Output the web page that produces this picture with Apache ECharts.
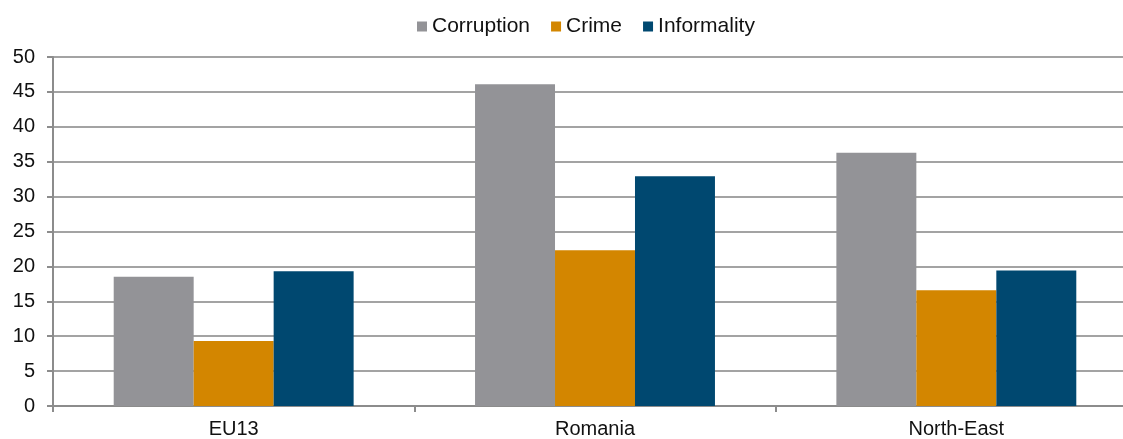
<!DOCTYPE html>
<html>
<head>
<meta charset="utf-8">
<script src="https://cdn.jsdelivr.net/npm/echarts@6/dist/echarts.min.js"></script>
<style>
  html, body { margin: 0; padding: 0; background: #ffffff; }
  #chart { width: 1123px; height: 439px; }
</style>
</head>
<body>
<div id="chart"></div>
<script>
const categories = ['EU13', 'Romania', 'North-East']
const corruption = [18.5, 46.1, 36.3]
const crime = [9.3, 22.3, 16.6]
const informality = [19.3, 32.9, 19.4]
const yTicks = [0, 50, 5]  // min, max, interval

const FONT = 'Liberation Sans, Arial, sans-serif'
const GRID_COLOR = '#a3a3a3'
const AXIS_COLOR = '#8c8c8c'

const chart = echarts.init(document.getElementById('chart'))

const barSeries = (name, data, color) => ({
  name,
  type: 'bar',
  data,
  barGap: '0%',
  barCategoryGap: '33.6%',
  itemStyle: { color },
  emphasis: { disabled: true }
})

chart.setOption({
  animation: false,
  textStyle: { fontFamily: FONT },
  legend: {
    top: 11,
    left: 412,
    icon: 'rect',
    itemWidth: 10,
    itemHeight: 10,
    itemGap: 21,
    textStyle: { fontSize: 21, color: '#111111', fontFamily: FONT }
  },
  grid: {
    left: 53,
    right: -14,
    top: 57,
    bottom: 33,
    outerBoundsMode: 'none'
  },
  xAxis: {
    type: 'category',
    data: categories,
    axisLine: { lineStyle: { color: AXIS_COLOR, width: 2 } },
    axisTick: { show: true, length: 6, lineStyle: { color: AXIS_COLOR, width: 2 } },
    axisLabel: { color: '#111111', fontSize: 20, margin: 13, fontFamily: FONT }
  },
  yAxis: {
    type: 'value',
    min: yTicks[0],
    max: yTicks[1],
    interval: yTicks[2],
    axisLine: { show: true, lineStyle: { color: AXIS_COLOR, width: 2 } },
    axisTick: { show: true, length: 6, lineStyle: { color: AXIS_COLOR, width: 2 } },
    axisLabel: { color: '#111111', fontSize: 20, margin: 18, fontFamily: FONT },
    splitLine: { lineStyle: { color: GRID_COLOR, width: 2 } }
  },
  series: [
    barSeries('Corruption', corruption, '#939397'),
    barSeries('Crime', crime, '#d38600'),
    barSeries('Informality', informality, '#004870')
  ]
})
</script>
</body>
</html>
